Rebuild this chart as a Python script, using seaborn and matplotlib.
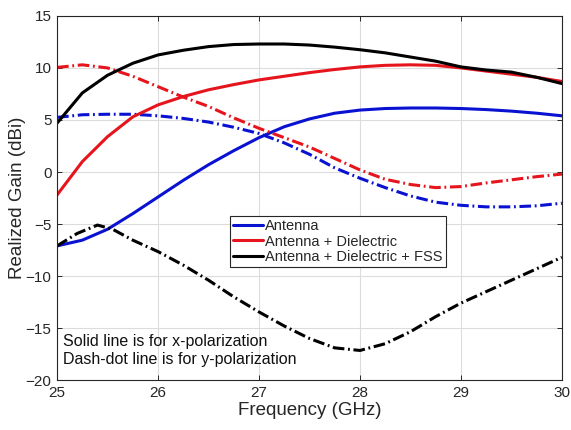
import pandas as pd
import matplotlib
matplotlib.use("Agg")
import matplotlib.pyplot as plt
from matplotlib.lines import Line2D
import seaborn as sns

# frequency grid (GHz)
freq = [25.0, 25.25, 25.5, 25.75, 26.0, 26.25, 26.5, 26.75, 27.0, 27.25, 27.5,
        27.75, 28.0, 28.25, 28.5, 28.75, 29.0, 29.25, 29.5, 29.75, 30.0]

# realized gain (dBi), x-polarization (solid) and y-polarization (dash-dot)
ant_x = [-7.1, -6.55, -5.5, -4.0, -2.4, -0.8, 0.7, 2.05, 3.3, 4.35, 5.1,
         5.65, 5.95, 6.1, 6.15, 6.15, 6.1, 6.0, 5.85, 5.65, 5.4]
ant_y = [5.25, 5.5, 5.55, 5.55, 5.4, 5.15, 4.8, 4.3, 3.7, 2.8, 1.7,
         0.4, -0.6, -1.5, -2.3, -2.9, -3.2, -3.35, -3.35, -3.25, -3.0]
diel_x = [-2.2, 1.0, 3.4, 5.3, 6.45, 7.25, 7.9, 8.4, 8.85, 9.2, 9.55,
          9.85, 10.1, 10.25, 10.3, 10.25, 10.0, 9.7, 9.4, 9.1, 8.7]
diel_y = [10.05, 10.3, 10.0, 9.2, 8.2, 7.2, 6.3, 5.2, 4.2, 3.3, 2.4,
          1.3, 0.2, -0.7, -1.2, -1.5, -1.4, -1.05, -0.75, -0.45, -0.2]
fss_x = [4.7, 7.6, 9.3, 10.45, 11.25, 11.7, 12.05, 12.25, 12.3, 12.3, 12.2,
         12.0, 11.75, 11.45, 11.05, 10.65, 10.1, 9.8, 9.6, 9.1, 8.5]

# black dash-dot has a small peak near 25.4 GHz, so it gets its own grid
freq_fss_y = [25.0, 25.2, 25.4, 25.55, 25.75, 26.0, 26.25, 26.5, 26.75, 27.0, 27.25,
              27.5, 27.75, 28.0, 28.25, 28.5, 28.75, 29.0, 29.25, 29.5, 29.75, 30.0]
fss_y = [-7.1, -5.9, -5.1, -5.5, -6.55, -7.65, -8.95, -10.4, -12.0, -13.45, -14.8,
         -16.0, -16.9, -17.15, -16.5, -15.35, -13.9, -12.6, -11.5, -10.4, -9.3, -8.2]

configs = ["Antenna", "Antenna + Dielectric", "Antenna + Dielectric + FSS"]
colors = ["#0a12d2", "#e6141c", "#000000"]

rows = []
for cfg, xs, ys, gx, gy in [
    (configs[0], freq, freq, ant_x, ant_y),
    (configs[1], freq, freq, diel_x, diel_y),
    (configs[2], freq, freq_fss_y, fss_x, fss_y),
]:
    rows += [{"freq": f, "gain": g, "config": cfg, "pol": "x"} for f, g in zip(xs, gx)]
    rows += [{"freq": f, "gain": g, "config": cfg, "pol": "y"} for f, g in zip(ys, gy)]
df = pd.DataFrame(rows)

sns.set_style("ticks")
plt.rcParams["font.family"] = ["Liberation Sans", "DejaVu Sans"]

fig = plt.figure(figsize=(5.71, 4.30), dpi=100)
ax = fig.add_axes([0.100, 0.116, 0.884, 0.847])

sns.lineplot(data=df, x="freq", y="gain", hue="config", style="pol",
             hue_order=configs, palette=colors,
             dashes={"x": "", "y": (3.8, 1.2, 0.6, 1.2)},
             estimator=None, sort=False, lw=2.2, legend=False, ax=ax)

ax.set_xlim(25, 30)
ax.set_ylim(-20, 15)
ax.set_xticks([25, 26, 27, 28, 29, 30])
ax.set_yticks([-20, -15, -10, -5, 0, 5, 10, 15])
ax.grid(True, color="#dcdcdc", lw=0.8)
ax.set_axisbelow(True)
ax.tick_params(direction="in", top=True, right=True, length=3.5, width=0.7,
               labelsize=11, colors="#262626", pad=4)
for sp in ax.spines.values():
    sp.set_color("#262626")
    sp.set_linewidth(0.8)

ax.set_xlabel("Frequency (GHz)", fontsize=13.5, color="#262626", labelpad=2)
ax.set_ylabel("Realized Gain (dBi)", fontsize=13.5, color="#262626", labelpad=0)

handles = [Line2D([0], [0], color=c, lw=2.2) for c in colors]
leg = ax.legend(handles, configs, loc="upper left", bbox_to_anchor=(0.343, 0.451),
                borderaxespad=0, fontsize=10.5, frameon=True, fancybox=False,
                edgecolor="#262626", framealpha=1, handlelength=2.05,
                handletextpad=0.15, borderpad=0.2, labelspacing=0.12)
leg.get_frame().set_linewidth(0.8)

ax.text(0.012, 0.035, "Solid line is for x-polarization\nDash-dot line is for y-polarization",
        transform=ax.transAxes, fontsize=11.5, ha="left", va="bottom",
        linespacing=1.25, color="#111111")

fig.savefig("out.png", dpi=100)
